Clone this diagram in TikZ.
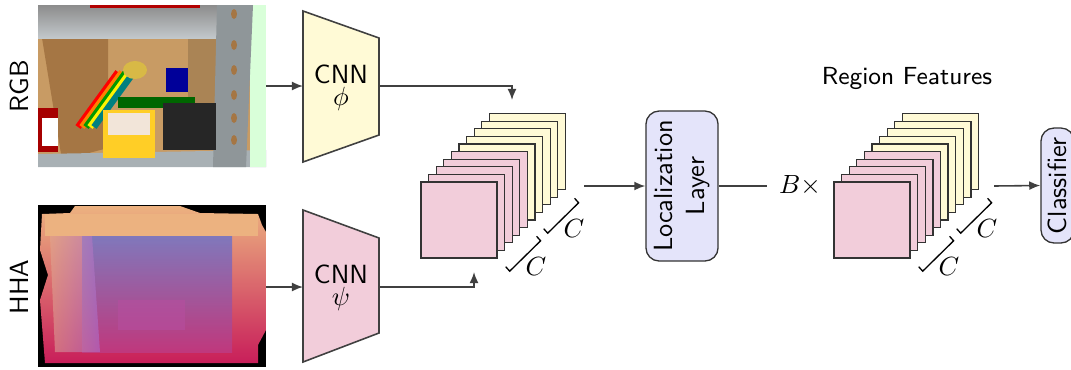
\documentclass[tikz,border=0pt]{standalone}
\usepackage{amsmath}
\usetikzlibrary{positioning,calc,arrows.meta}

\definecolor{cnnyellow}{RGB}{255,250,214}
\definecolor{cnnpink}{RGB}{242,205,218}
\definecolor{layerblue}{RGB}{228,228,250}
\definecolor{shelfgray}{RGB}{168,176,180}
\definecolor{cardboard}{RGB}{200,155,100}
\definecolor{cardboarddark}{RGB}{165,118,68}
\definecolor{hhapeach}{RGB}{236,178,128}
\definecolor{hhaviolet}{RGB}{170,110,205}
\definecolor{hhablue}{RGB}{95,110,210}
\definecolor{hhared}{RGB}{200,30,90}

\tikzset{
  conn/.style={draw=black!75, line width=0.6pt, -{Latex[length=4.2pt,width=3.4pt]}},
  plain/.style={draw=black!75, line width=0.6pt},
  cnn/.style={draw=black!75, line width=0.6pt},
  fmap/.style={draw=black!80, line width=0.5pt, minimum size=28.9pt, inner sep=0pt},
  brk/.style={draw=black, line width=0.5pt},
  layer/.style={draw=black!80, line width=0.5pt, fill=layerblue, rounded corners=5pt,
                rotate=90, align=center, font=\sffamily, inner sep=0pt},
  lbl/.style={font=\sffamily},
}

\begin{document}
\begin{tikzpicture}[x=0.38pt,y=-0.38pt]
\useasboundingbox (0,0) rectangle (1071,369);

% input images
\node[minimum width=86.6pt, minimum height=61.6pt, inner sep=0pt] (rgb) at (152,86) {};
\node[minimum width=86.6pt, minimum height=61.6pt, inner sep=0pt] (hha) at (152,286) {};

\begin{scope}
  \clip (38,5) rectangle (266,167);
  \fill[cardboard] (38,5) rectangle (266,167);
  \fill[cardboarddark] (42,38) -- (108,38) -- (108,148) -- (62,160) -- cycle;
  \fill[cardboard!85!black] (188,38) -- (233,38) -- (232,150) -- (188,148) -- cycle;
  \shade[top color=black!45, bottom color=shelfgray!70] (38,5) rectangle (252,38);
  \fill[red!70!black] (90,5) rectangle (200,8);
  \fill[shelfgray] (38,154) -- (266,150) -- (266,167) -- (38,167) -- cycle;
  \fill[white!85!green] (250,5) rectangle (266,167);
  \fill[shelfgray!85!black] (217,5) -- (253,5) -- (246,167) -- (213,167) -- cycle;
  \foreach \y in {14,45,70,95,118,140}
    \fill[cardboarddark] (234,\y) ellipse (3 and 5);
  \foreach \c/\o in {red/0,orange/4,green!60!black/8,yellow/12,teal/16}
    \draw[\c, line width=2.4pt] (78+\o,127) -- (118+\o,72);
  \fill[green!40!black] (118,97) rectangle (195,108);
  \fill[orange!45!yellow!85!white] (103,110) rectangle (155,158);
  \fill[white!80!brown] (108,113) rectangle (150,135);
  \fill[black!85] (163,103) rectangle (216,150);
  \fill[blue!60!black] (166,68) rectangle (188,92);
  \fill[cardboard!70!yellow] (135,70) ellipse (12 and 9);
  \fill[red!65!black] (38,108) rectangle (58,152);
  \fill[white] (42,118) rectangle (58,146);
\end{scope}

\begin{scope}
  \fill[black] (38,205) rectangle (266,367);
  \shade[top color=hhapeach, middle color=hhaviolet, bottom color=hhared]
    (42,214) -- (70,213) -- (75,206) -- (180,206) -- (200,213) -- (258,214)
    -- (262,225) -- (266,232) -- (266,330) -- (258,345) -- (258,363) -- (45,363)
    -- (40,300) -- (48,275) -- (40,250) -- cycle;
  \fill[hhapeach] (45,214) rectangle (258,236);
  \shade[top color=hhablue, bottom color=hhared!60!hhaviolet, opacity=0.75]
    (82,236) rectangle (232,352);
  \shade[left color=hhapeach!80!hhaviolet, right color=hhaviolet, opacity=0.6]
    (50,236) -- (92,236) -- (100,352) -- (55,352) -- cycle;
  \fill[hhared!40!hhaviolet, opacity=0.6] (118,300) rectangle (185,330);
\end{scope}

\node[rotate=90, lbl] (rgblbl) at (19,86) {RGB};
\node[rotate=90, lbl] (hhalbl) at (19,287) {HHA};

% CNNs
\draw[cnn, fill=cnnyellow] (303,11) -- (379,38) -- (379,135) -- (303,162) -- cycle;
\draw[cnn, fill=cnnpink] (303,210) -- (379,238) -- (379,333) -- (303,362) -- cycle;
\node[lbl, align=center] (cnnphi) at (341,88) {CNN\\[-3.5pt]$\phi$};
\node[lbl, align=center] (cnnpsi) at (341,288) {CNN\\[-3.5pt]$\psi$};
\coordinate (cnnphiin) at (303,86);
\coordinate (cnnphiout) at (379,86);
\coordinate (cnnpsiin) at (303,287);
\coordinate (cnnpsiout) at (379,287);

\draw[conn] (rgb.east |- cnnphiin) -- (cnnphiin);
\draw[conn] (hha.east |- cnnpsiin) -- (cnnpsiin);

% fused feature maps
\foreach \i in {9,...,0} {
  \ifnum\i<5 \def\mapcol{cnnpink}\else\def\mapcol{cnnyellow}\fi
  \node[fmap, fill=\mapcol] (fa\i) at (459+7.6*\i, 220-7.6*\i) {};
}
\coordinate (fatop) at (512,100);
\coordinate (fabot) at (474,272);
\draw[conn] (cnnphiout) -| (fatop);
\draw[conn] (cnnpsiout) -| (fabot);

\draw[brk] ($(fa0.south east)+(8,8)$) -- ++(4,4.5) -- ($(fa4.south east)+(12.5,12.5)$) -- ++(-4,-4.5);
\draw[brk] ($(fa5.south east)+(8,8)$) -- ++(4,4.5) -- ($(fa9.south east)+(12.5,12.5)$) -- ++(-4,-4.5);
\node (ca) at ($(fa0.south east)!0.5!(fa4.south east)+(23,23)$) {$C$};
\node (cb) at ($(fa5.south east)!0.5!(fa9.south east)+(23,23)$) {$C$};

% localization
\node[layer, minimum width=57pt, minimum height=27.4pt] (loc) at (682,186) {Localization\\Layer};
\coordinate (faout) at (584,186);
\draw[conn] (faout) -- (loc.north);
\coordinate (bxin) at (767,186);
\draw[plain] (loc.south) -- (bxin);
\node (bx) at (800,186) {$B\times$};

% region features
\foreach \i in {9,...,0} {
  \ifnum\i<5 \def\mapcol{cnnpink}\else\def\mapcol{cnnyellow}\fi
  \node[fmap, fill=\mapcol] (rf\i) at (872+7.6*\i, 220-7.6*\i) {};
}
\node[font=\sffamily\fontsize{9.4}{11}\selectfont] (rftitle) at (907,78) {Region Features};
\draw[brk] ($(rf0.south east)+(8,8)$) -- ++(4,4.5) -- ($(rf4.south east)+(12.5,12.5)$) -- ++(-4,-4.5);
\draw[brk] ($(rf5.south east)+(8,8)$) -- ++(4,4.5) -- ($(rf9.south east)+(12.5,12.5)$) -- ++(-4,-4.5);
\node (cc) at ($(rf0.south east)!0.5!(rf4.south east)+(23,23)$) {$C$};
\node (cd) at ($(rf5.south east)!0.5!(rf9.south east)+(23,23)$) {$C$};

% classifier
\node[layer, minimum width=43.7pt, minimum height=12.6pt] (cls) at (1057.5,185.5) {Classifier};
\coordinate (rfout) at (994,186);
\draw[conn] (rfout) -- (cls.north);

\end{tikzpicture}
\end{document}
